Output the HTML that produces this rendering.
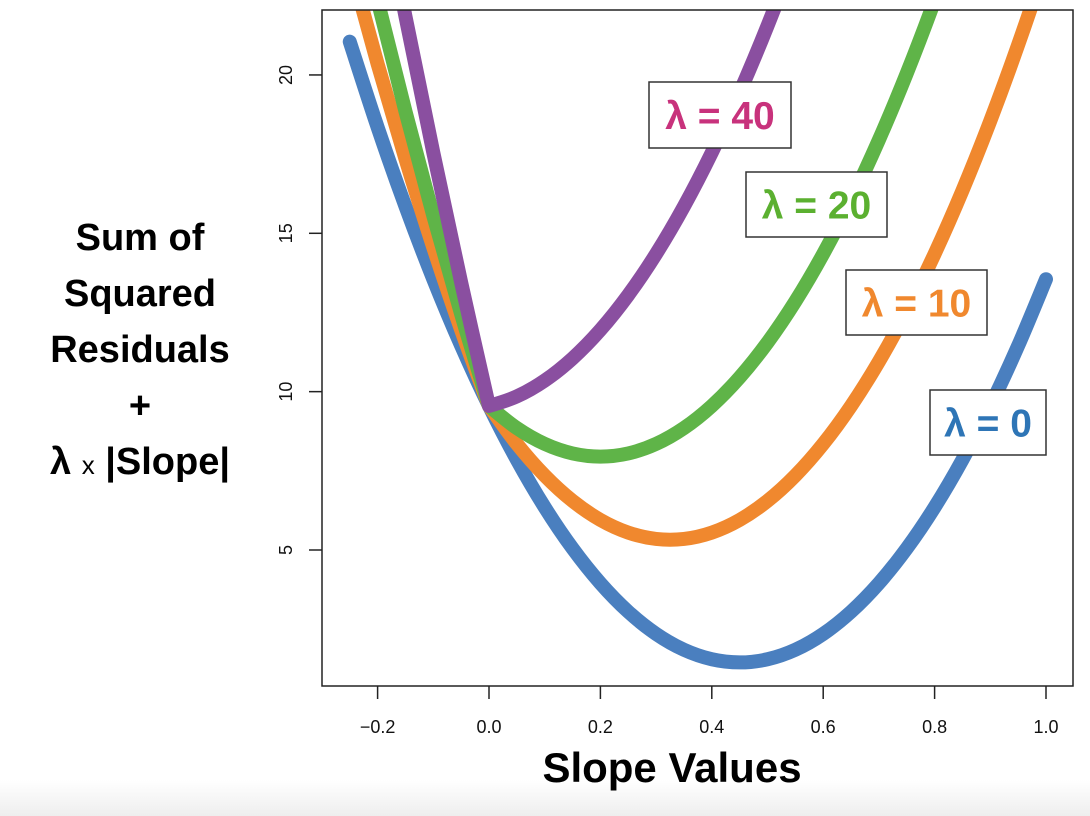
<!DOCTYPE html>
<html><head><meta charset="utf-8"><style>
html,body{margin:0;padding:0;background:#fff}
body{width:1090px;height:816px;overflow:hidden;position:relative;font-family:"Liberation Sans",sans-serif;background:linear-gradient(#fff 0,#fff 780px,#eee 816px)}
.t{position:absolute;font-weight:bold;color:#000}
</style></head><body>
<div class="t" style="left:20px;top:210px;width:240px;text-align:center;font-size:38px;line-height:56px">Sum of<br>Squared<br>Residuals<br>+<br>λ <span style="font-weight:normal;font-size:26px">x</span> |Slope|</div>
<div class="t" style="left:322px;top:744px;width:700px;text-align:center;font-size:42px">Slope Values</div>
<svg id="c" width="1090" height="816" style="position:absolute;left:0;top:0"></svg>
<script>
const xs=[-0.3,-0.25,-0.2,-0.15,-0.1,-0.05,0,0.05,0.1,0.15,0.2,0.25,0.3,0.35,0.4,0.45,0.5,0.55,0.6,0.65,0.7,0.75,0.8,0.85,0.9,0.95,1.0,1.05];
const ssr=[23.95,21.05,18.35,15.85,13.55,11.45,9.55,7.85,6.35,5.05,3.95,3.05,2.35,1.85,1.55,1.45,1.55,1.85,2.35,3.05,3.95,5.05,6.35,7.85,9.55,11.45,13.55,15.85];
const lambdas=[0,10,20,40];
const colors=["#4a7fbf","#f0882e","#5fb448","#8a4fa0"];
const xTicks=[-0.2,0,0.2,0.4,0.6,0.8,1.0];
const xTickLabels=["\u22120.2","0.0","0.2","0.4","0.6","0.8","1.0"];
const yTicks=[5,10,15,20];
const X=v=>489+v*557, Y=v=>550-(v-5)*31.67;
const L=322,R=1073,T=10,B=686;
const ns="http://www.w3.org/2000/svg",svg=document.getElementById('c');
function mk(t,a,p){const e=document.createElementNS(ns,t);for(const k in a)e.setAttribute(k,a[k]);(p||svg).appendChild(e);return e;}
const defs=mk('defs',{});const cp=mk('clipPath',{id:'cp'},defs);mk('rect',{x:L,y:T,width:R-L,height:B-T},cp);
const g=mk('g',{'clip-path':'url(#cp)'});
function path(pts){let d='M'+pts[0][0]+','+pts[0][1];for(let i=0;i<pts.length-1;i++){const p0=pts[Math.max(0,i-1)],p1=pts[i],p2=pts[i+1],p3=pts[Math.min(pts.length-1,i+2)];
const k0=(pts[i].z)?0:1,k1=(pts[i+1].z)?0:1;
d+=' C'+(p1[0]+k0*(p2[0]-p0[0])/6)+','+(p1[1]+k0*(p2[1]-p0[1])/6)+' '+(p2[0]-k1*(p3[0]-p1[0])/6)+','+(p2[1]-k1*(p3[1]-p1[1])/6)+' '+p2[0]+','+p2[1];}return d;}
lambdas.forEach((lam,j)=>{let pts=[];xs.forEach((x,i)=>{if(j===0&&(x<-0.26||x>1.001))return;const p=[X(x),Y(ssr[i]+lam*Math.abs(x))];p.z=(x===0&&lam>0);pts.push(p);});
const p=mk('path',{d:path(pts),fill:'none',stroke:colors[j],'stroke-width':14,'stroke-linecap':'round','stroke-linejoin':'round'},g);

});
const ax=mk('rect',{x:L,y:T,width:R-L,height:B-T,fill:'none',stroke:'#222','stroke-width':1.5});


xTicks.forEach((v,i)=>{mk('line',{x1:X(v),x2:X(v),y1:B,y2:B+13,stroke:'#222','stroke-width':1.5});
const t=mk('text',{x:X(v),y:733,'text-anchor':'middle','font-size':18,'font-family':'Liberation Sans',fill:'#111'});t.textContent=xTickLabels[i];

});
yTicks.forEach(v=>{mk('line',{x1:L,x2:L-13,y1:Y(v),y2:Y(v),stroke:'#222','stroke-width':1.5});
const t=mk('text',{x:0,y:0,transform:'translate(292,'+Y(v)+') rotate(-90)','text-anchor':'middle','font-size':18,'font-family':'Liberation Sans',fill:'#111'});t.textContent=String(v);

});
const labels=[["λ = 40",649,82,142,66,"#c8327c"],["λ = 20",746,172,141,65,"#5bb030"],["λ = 10",846,270,141,65,"#f0882e"],["λ = 0",930,390,116,65,"#2e75b6"]];
labels.forEach(l=>{const gg=mk('g',{});


mk('rect',{x:l[1],y:l[2],width:l[3],height:l[4],fill:'#fff',stroke:'#333','stroke-width':1.5},gg);
const t=mk('text',{x:l[1]+l[3]/2,y:l[2]+l[4]/2+14,'text-anchor':'middle','font-size':39,'font-weight':'bold','font-family':'Liberation Sans',fill:l[5]},gg);t.textContent=l[0];});
</script>
</body></html>
